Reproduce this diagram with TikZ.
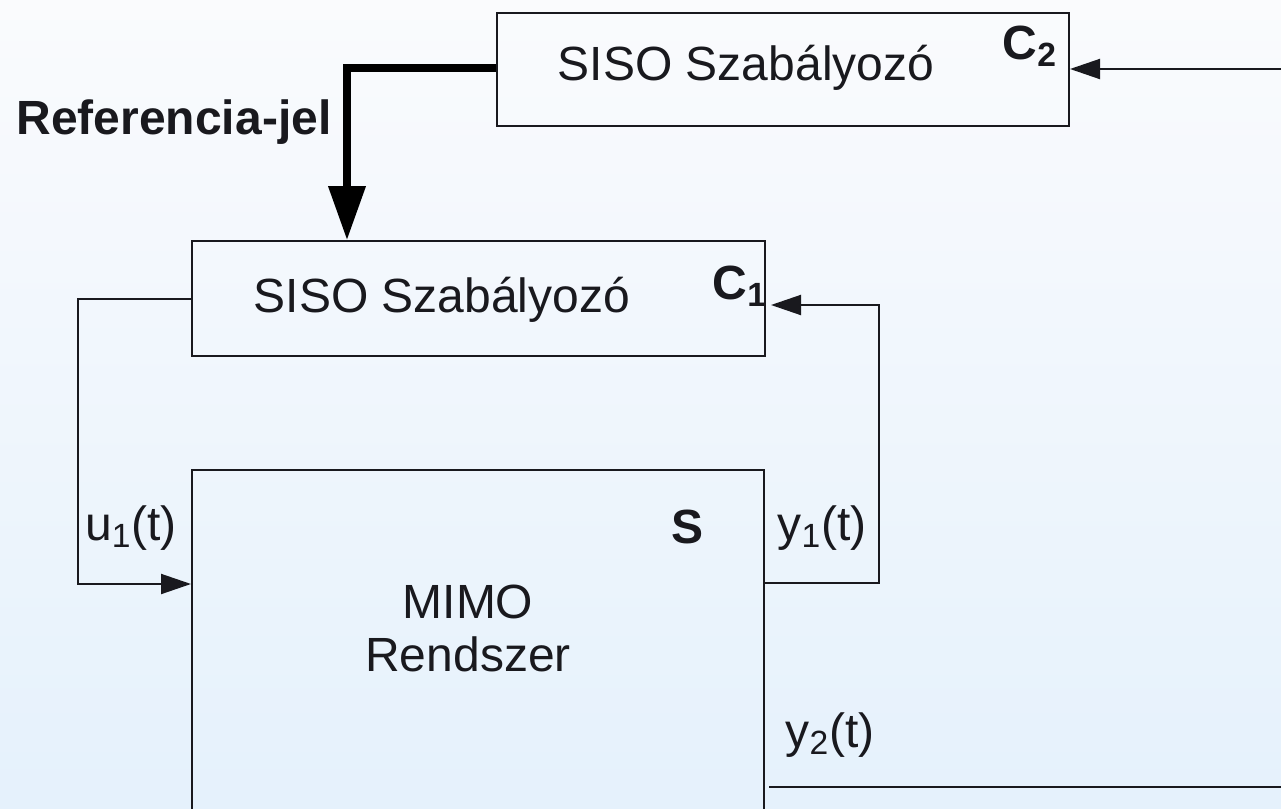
\documentclass[tikz,border=0pt]{standalone}
\usepackage{fontspec}
\setmainfont{Liberation Sans}
\usetikzlibrary{arrows.meta}
\definecolor{bgtop}{RGB}{250,251,253}
\definecolor{bgbot}{RGB}{229,241,252}
\definecolor{ink}{RGB}{25,25,30}
\tikzset{
  blk/.style={draw=ink, line width=1pt, inner sep=0pt, rectangle},
  lbl/.style={inner sep=0pt, text=ink, font=\fontsize{24}{26.5}\selectfont},
  bl/.style={inner sep=0pt, text=ink, font=\fontsize{24}{26.5}\selectfont\bfseries},
  wire/.style={draw=ink, line width=1pt},
  thinarrow/.style={wire, -{Triangle[length=15pt,width=10pt]}},
  bigarrow/.style={draw=black, line width=3.6pt, -{Triangle[length=27pt,width=18pt]}}
}
\begin{document}
\begin{tikzpicture}[x=0.5pt,y=-0.5pt]
\useasboundingbox (0,0) rectangle (1281,809);
\clip (0,0) rectangle (1281,809);
\shade[top color=bgtop, bottom color=bgbot] (0,0) rectangle (1281,809);

% blocks
\node[blk, minimum width=286pt, minimum height=56.5pt] (C2) at (783,69.5) {};
\node[blk, minimum width=286.5pt, minimum height=57.5pt] (C1) at (478.5,298.5) {};
\node[blk, minimum width=286pt, minimum height=190pt] (S) at (478,660) {};

% texts
\node[lbl] (t2) at (746,68) {SISO Szabályozó};
\node[lbl] (t1) at (442,300) {SISO Szabályozó};
\node[bl] (c2) at (1030,46) {C\textsubscript{2}};
\node[bl] (c1) at (740,286) {C\textsubscript{1}};
\node[bl] (sl) at (688,527) {S};
\node[lbl] (u1) at (131,528) {u\textsubscript{1}(t)};
\node[lbl] (y1) at (822,528) {y\textsubscript{1}(t)};
\node[lbl] (y2) at (830,735) {y\textsubscript{2}(t)};
\node[lbl, align=center] (mimo) at (468,628) {MIMO\\Rendszer};
\node[bl] (ref) at (174,122) {Referencia-jel};

% helper coordinates
\coordinate (k1) at (347,68);
\coordinate (ul) at (78,584);
\coordinate (yr) at (879,583);
\coordinate (yt) at (879,305);
\coordinate (in2) at (1290,69);
\coordinate (y2s) at (769,787);
\coordinate (y2e) at (1290,787);

% connectors
\draw[bigarrow] (C2.west |- k1) -- (k1) -- (k1 |- C1.north);
\draw[thinarrow] (C1.west) -| (ul) -- (ul -| S.west);
\draw[thinarrow] (yr -| S.east) -- (yr) -- (yt) -- ([xshift=2.5pt]yt -| C1.east);
\draw[thinarrow] (in2) -- (in2 -| C2.east);
\draw[wire] (y2s) -- (y2e);
\end{tikzpicture}
\end{document}
